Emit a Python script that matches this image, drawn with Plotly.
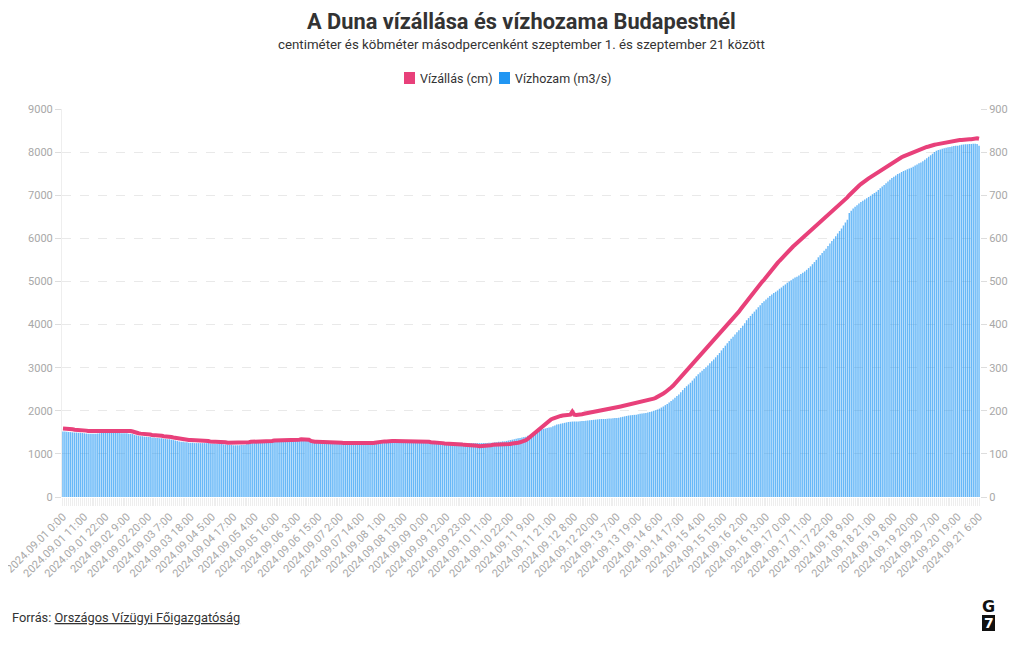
import plotly.graph_objects as go

# ---------------- data ----------------
LAST_DAY, LAST_HOUR = 21, 6
MISSING_HOURS = [
    "2024.09.04 11:00", "2024.09.05 10:00", "2024.09.06 9:00", "2024.09.07 8:00",
    "2024.09.08 7:00", "2024.09.09 6:00", "2024.09.10 5:00", "2024.09.11 15:00",
    "2024.09.12 14:00", "2024.09.13 13:00", "2024.09.18 15:00", "2024.09.19 14:00",
    "2024.09.20 13:00",
]

TICK_LABELS = [
    "2024.09.01 0:00", "2024.09.01 11:00", "2024.09.01 22:00", "2024.09.02 9:00",
    "2024.09.02 20:00", "2024.09.03 7:00", "2024.09.03 18:00", "2024.09.04 5:00",
    "2024.09.04 17:00", "2024.09.05 4:00", "2024.09.05 16:00", "2024.09.06 3:00",
    "2024.09.06 15:00", "2024.09.07 2:00", "2024.09.07 14:00", "2024.09.08 1:00",
    "2024.09.08 13:00", "2024.09.09 0:00", "2024.09.09 12:00", "2024.09.09 23:00",
    "2024.09.10 11:00", "2024.09.10 22:00", "2024.09.11 9:00", "2024.09.11 21:00",
    "2024.09.12 8:00", "2024.09.12 20:00", "2024.09.13 7:00", "2024.09.13 19:00",
    "2024.09.14 6:00", "2024.09.14 17:00", "2024.09.15 4:00", "2024.09.15 15:00",
    "2024.09.16 2:00", "2024.09.16 13:00", "2024.09.17 0:00", "2024.09.17 11:00",
    "2024.09.17 22:00", "2024.09.18 9:00", "2024.09.18 21:00", "2024.09.19 8:00",
    "2024.09.19 20:00", "2024.09.20 7:00", "2024.09.20 19:00", "2024.09.21 6:00",
]

# Vízállás (cm), per day
LEVEL_01 = [159,159,158,158,157,157,156,156,156,155,155,154,154,153,153,153,153,153,154,154,155,155,155,155]
LEVEL_02 = [155,155,155,155,155,155,154,154,154,154,153,153,152,150,149,148,147,147,146,146,145,145,144,144]
LEVEL_03 = [143,143,142,142,141,141,140,140,139,138,137,136,135,134,134,133,133,132,132,132,131,131,131,131]
LEVEL_04 = [130,130,130,130,129,129,129,128,128,128,128,127,127,126,126,126,125,125,125,125,126,126,126]
LEVEL_05 = [127,127,128,128,129,129,130,130,130,130,130,130,130,130,131,131,131,131,131,131,131,131,131]
LEVEL_06 = [131,132,132,133,133,134,134,134,134,133,130,128,128,128,128,128,128,128,127,127,127,127,127]
LEVEL_07 = [127,126,126,126,125,125,125,124,124,124,123,123,123,123,123,123,124,124,125,125,126,127,127]
LEVEL_08 = [127,128,129,129,130,130,130,130,130,130,130,130,130,129,129,129,129,129,129,129,129,129,129]
LEVEL_09 = [129,128,128,127,127,126,126,126,125,125,124,124,123,123,123,123,122,122,122,122,121,121,121]
LEVEL_10 = [121,120,120,119,119,118,118,118,119,119,120,120,121,121,122,122,122,122,122,122,123,123,124]
LEVEL_11 = [124,125,126,127,128,130,132,135,139,143,147,151,155,159,163,167,171,174,177,180,182,184,186]
LEVEL_12 = [187,188,189,190,190,191,191,198,191,190,190,191,192,193,194,195,195,196,197,198,199,200,201]
LEVEL_13 = [202,203,204,205,206,207,208,208,209,210,211,212,213,214,216,217,216,217,218,219,220,221,222]
LEVEL_14 = [223,224,226,228,230,232,234,237,240,243,246,250,254,258,263,268,273,279,284,289,294,299,304,309]
LEVEL_15 = [314,318,323,328,333,338,343,348,353,358,363,368,373,378,383,388,393,398,403,408,414,419,425,430]
LEVEL_16 = [436,442,448,453,459,465,470,476,482,487,493,499,504,510,515,520,526,531,537,543,548,553,558,564]
LEVEL_17 = [569,573,577,581,585,589,593,597,601,605,609,613,617,621,625,629,633,637,641,645,649,653,657,661]
LEVEL_18 = [665,669,673,677,681,685,690,695,700,705,710,714,718,722,726,730,733,736,739,742,745,748,751]
LEVEL_19 = [754,757,760,763,766,769,772,775,778,780,783,785,788,790,792,794,796,798,800,802,804,806,807]
LEVEL_20 = [808,810,812,813,815,816,817,818,819,820,821,822,823,824,825,826,826,827,827,828,828,829,829]
LEVEL_21 = [829,830,830,831,831,832,831]

# Vízhozam (m3/s), per day
FLOW_01 = [1520,1520,1515,1510,1505,1500,1495,1495,1490,1490,1485,1480,1475,1470,1470,1470,1470,1470,1475,1480,1485,1490,1490,1490]
FLOW_02 = [1490,1490,1490,1490,1490,1490,1480,1480,1480,1480,1470,1470,1460,1440,1430,1420,1410,1410,1400,1400,1390,1390,1380,1380]
FLOW_03 = [1370,1370,1360,1360,1350,1350,1340,1340,1330,1320,1310,1300,1290,1280,1280,1270,1270,1260,1260,1260,1250,1250,1250,1250]
FLOW_04 = [1250,1250,1250,1250,1240,1240,1240,1230,1230,1230,1230,1220,1220,1210,1210,1210,1200,1200,1200,1200,1210,1210,1210]
FLOW_05 = [1250,1250,1260,1260,1270,1270,1280,1280,1280,1280,1280,1280,1280,1280,1290,1290,1290,1290,1290,1290,1290,1290,1290]
FLOW_06 = [1290,1300,1300,1310,1310,1320,1320,1320,1320,1310,1280,1260,1260,1260,1260,1260,1260,1260,1250,1250,1250,1250,1250]
FLOW_07 = [1250,1240,1240,1240,1230,1230,1230,1220,1220,1220,1210,1210,1210,1210,1210,1210,1220,1220,1230,1230,1240,1250,1250]
FLOW_08 = [1250,1260,1270,1270,1280,1280,1280,1280,1280,1280,1280,1280,1280,1270,1270,1270,1270,1270,1270,1270,1270,1270,1270]
FLOW_09 = [1270,1270,1270,1260,1260,1260,1260,1260,1260,1260,1260,1260,1260,1260,1260,1260,1260,1260,1260,1260,1250,1250,1250]
FLOW_10 = [1250,1250,1250,1250,1250,1250,1250,1250,1250,1250,1260,1260,1260,1270,1270,1280,1280,1290,1290,1300,1310,1320,1330]
FLOW_11 = [1340,1350,1360,1370,1380,1390,1400,1420,1440,1460,1480,1500,1520,1540,1560,1575,1590,1600,1610,1620,1640,1660,1680]
FLOW_12 = [1690,1700,1710,1720,1730,1740,1745,1750,1750,1750,1750,1755,1760,1765,1770,1775,1780,1785,1790,1795,1800,1805,1810]
FLOW_13 = [1810,1812,1815,1818,1822,1826,1830,1835,1840,1850,1860,1870,1880,1890,1895,1900,1905,1910,1920,1930,1935,1940,1950]
FLOW_14 = [1960,1970,1985,2000,2015,2030,2050,2075,2100,2130,2160,2190,2225,2260,2300,2340,2380,2430,2480,2530,2570,2610,2650,2700]
FLOW_15 = [2750,2800,2850,2890,2930,2970,3010,3050,3100,3150,3190,3240,3290,3340,3400,3455,3510,3565,3620,3670,3720,3770,3820,3870]
FLOW_16 = [3920,3970,4030,4100,4150,4200,4250,4300,4350,4400,4450,4500,4540,4580,4620,4660,4700,4730,4760,4790,4830,4860,4900,4930]
FLOW_17 = [4970,5000,5030,5060,5090,5110,5140,5170,5200,5230,5270,5310,5350,5400,5450,5500,5560,5610,5660,5710,5760,5820,5880,5940]
FLOW_18 = [5990,6050,6110,6170,6230,6300,6370,6430,6590,6640,6690,6730,6770,6810,6840,6870,6900,6930,6960,6990,7020,7050,7080]
FLOW_19 = [7120,7160,7200,7240,7280,7320,7360,7400,7430,7460,7490,7510,7540,7560,7580,7600,7620,7640,7660,7690,7710,7740,7760]
FLOW_20 = [7790,7820,7860,7890,7930,7960,8000,8030,8050,8060,8080,8090,8100,8110,8120,8130,8140,8145,8150,8160,8170,8175,8180]
FLOW_21 = [8185,8190,8190,8195,8195,8190,8150]

TITLE = "A Duna vízállása és vízhozama Budapestnél"
SUBTITLE = "centiméter és köbméter másodpercenként szeptember 1. és szeptember 21 között"
LEGEND_NAMES = ["Vízállás (cm)", "Vízhozam (m3/s)"]
SOURCE_LABEL = "Forrás: "
SOURCE_NAME = "Országos Vízügyi Főigazgatóság"

# ---------------- build ----------------
categories = []
for d in range(1, LAST_DAY + 1):
    for h in range(24):
        if d == LAST_DAY and h > LAST_HOUR:
            break
        c = f"2024.09.{d:02d} {h}:00"
        if c not in MISSING_HOURS:
            categories.append(c)

level = (LEVEL_01 + LEVEL_02 + LEVEL_03 + LEVEL_04 + LEVEL_05 + LEVEL_06 + LEVEL_07 +
         LEVEL_08 + LEVEL_09 + LEVEL_10 + LEVEL_11 + LEVEL_12 + LEVEL_13 + LEVEL_14 +
         LEVEL_15 + LEVEL_16 + LEVEL_17 + LEVEL_18 + LEVEL_19 + LEVEL_20 + LEVEL_21)
flow = (FLOW_01 + FLOW_02 + FLOW_03 + FLOW_04 + FLOW_05 + FLOW_06 + FLOW_07 +
        FLOW_08 + FLOW_09 + FLOW_10 + FLOW_11 + FLOW_12 + FLOW_13 + FLOW_14 +
        FLOW_15 + FLOW_16 + FLOW_17 + FLOW_18 + FLOW_19 + FLOW_20 + FLOW_21)
n = min(len(categories), len(level), len(flow))
categories, level, flow = categories[:n], level[:n], flow[:n]

PINK = "#E8407A"
BLUE = "#2196F3"
FONT = "Roboto"
GREY = "#a8a8a8"
DARK = "#333333"

# The page body adds an 8px offset; target plot area on screen: x 62..980, y 109..497
OFF = 8
W, H = 1020 - OFF, 650 - OFF
L, T = 62 - OFF, 109 - OFF
R, B = W - (980 - OFF), H - (497 - OFF)
PW, PH = W - L - R, H - T - B


def px(x):  # screen x -> paper
    return (x - OFF - L) / PW


def py(y):  # screen y -> paper
    return (H - B - (y - OFF)) / PH


fig = go.Figure()
fig.add_trace(go.Bar(
    x=categories, y=flow, name=LEGEND_NAMES[1], yaxis="y",
    marker=dict(color="rgba(33,150,243,0.68)", line=dict(width=0)),
    showlegend=False,
))
fig.add_trace(go.Scatter(
    x=categories, y=level, name=LEGEND_NAMES[0], yaxis="y2", mode="lines",
    line=dict(color=PINK, width=4), showlegend=False,
))

ticktext = [c if c in TICK_LABELS else "" for c in categories]

annotations = [
    dict(text=f"<b>{TITLE}</b>", x=0.5, y=py(22), xref="paper", yref="paper",
         xanchor="center", yanchor="middle", showarrow=False,
         font=dict(size=21.8, color=DARK, family=FONT)),
    dict(text=SUBTITLE, x=0.5, y=py(45), xref="paper", yref="paper",
         xanchor="center", yanchor="middle", showarrow=False,
         font=dict(size=13.3, color=DARK, family=FONT)),
    dict(text=LEGEND_NAMES[0], x=px(418), y=py(78), xref="paper", yref="paper",
         xanchor="left", yanchor="middle", showarrow=False,
         font=dict(size=12.5, color=DARK, family=FONT)),
    dict(text=LEGEND_NAMES[1], x=px(513), y=py(78), xref="paper", yref="paper",
         xanchor="left", yanchor="middle", showarrow=False,
         font=dict(size=12.5, color=DARK, family=FONT)),
    dict(text=f"{SOURCE_LABEL}<u>{SOURCE_NAME}</u>", x=px(10), y=py(617),
         xref="paper", yref="paper", xanchor="left", yanchor="middle", showarrow=False,
         font=dict(size=12.8, color=DARK, family=FONT)),
    dict(text="<b>G</b>", x=px(988.5), y=py(606), xref="paper", yref="paper",
         xanchor="center", yanchor="middle", showarrow=False,
         font=dict(size=16, color="#111111", family="DejaVu Sans")),
]

shapes = [
    dict(type="rect", xref="paper", yref="paper", x0=px(404), x1=px(415),
         y0=py(84), y1=py(72), fillcolor=PINK, line=dict(width=0)),
    dict(type="rect", xref="paper", yref="paper", x0=px(499), x1=px(510),
         y0=py(84), y1=py(72), fillcolor=BLUE, line=dict(width=0)),
    dict(type="rect", xref="paper", yref="paper", x0=px(982), x1=px(995),
         y0=py(631), y1=py(615), fillcolor="#111111", line=dict(width=0)),
]
annotations.append(
    dict(text="<b>7</b>", x=px(988.5), y=py(623), xref="paper", yref="paper",
         xanchor="center", yanchor="middle", showarrow=False,
         font=dict(size=14, color="white", family="DejaVu Sans")))

fig.update_layout(
    width=W, height=H,
    margin=dict(l=L, r=R, t=T, b=B),
    paper_bgcolor="white", plot_bgcolor="white",
    font=dict(family=FONT, color=DARK),
    bargap=0.25,
    showlegend=False,
    xaxis=dict(
        type="category", categoryorder="array", categoryarray=categories,
        tickmode="array", tickvals=categories, ticktext=ticktext,
        tickangle=-45, tickfont=dict(size=11, color=GREY),
        ticks="outside", ticklen=8, tickcolor="#eeeeee", tickwidth=1,
        showgrid=False, showline=False, zeroline=False, automargin=False,
    ),
    yaxis=dict(
        range=[0, 9000], dtick=1000, tickfont=dict(size=11, color=GREY),
        showgrid=True, gridcolor="#e9e9e9", griddash="dash", gridwidth=1,
        zeroline=False, showline=True, linecolor="#eeeeee", linewidth=1,
        ticks="outside", ticklen=6, tickcolor="#dddddd", automargin=False,
    ),
    yaxis2=dict(
        range=[0, 900], dtick=100, overlaying="y", side="right",
        tickfont=dict(size=11, color=GREY), showgrid=False, zeroline=False,
        showline=False, ticks="outside", ticklen=6, tickcolor="#dddddd",
        automargin=False,
    ),
    annotations=annotations,
    shapes=shapes,
)

fig.write_html("out.html")
